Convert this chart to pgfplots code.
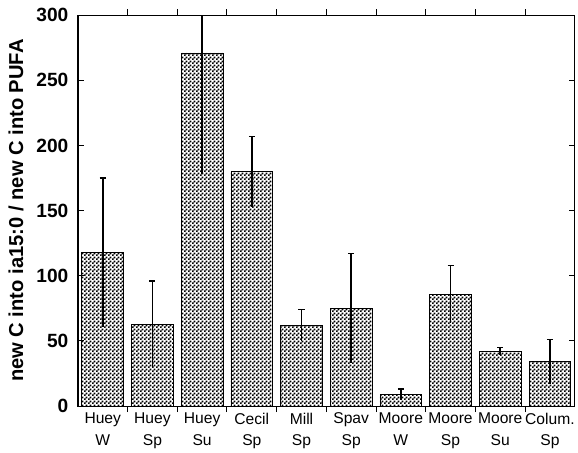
\documentclass[border=0pt]{standalone}
\usepackage{pgfplots}
\pgfplotsset{compat=1.18}
\usetikzlibrary{patterns}
\usepackage{fontspec}
\setmainfont{Liberation Sans}
\pgfdeclarepatternformonly{finecheck}{\pgfpointorigin}{\pgfqpoint{4pt}{4pt}}{\pgfqpoint{4pt}{4pt}}{%
  \pgfpathrectangle{\pgfpointorigin}{\pgfqpoint{2pt}{2pt}}%
  \pgfpathrectangle{\pgfqpoint{2pt}{2pt}}{\pgfqpoint{2pt}{2pt}}%
  \pgfusepath{fill}}
\begin{document}
\begin{tikzpicture}
\begin{axis}[
  scale only axis,
  width=493pt, height=388pt,
  xmin=-0.5, xmax=9.5,
  ymin=0, ymax=300,
  ytick={0,50,...,300},
  xtick={0,...,9},
  xticklabels={{Huey\\W},{Huey\\Sp},{Huey\\Su},{Cecil\\Sp},{Mill\\Sp},{Spav\\Sp},{Moore\\W},{Moore\\Sp},{Moore\\Su},{Colum.\\Sp}},
  minor xtick={0.5,1.5,...,8.5},
  major x tick style={draw=none},
  tick align=inside,
  major tick length=6pt,
  minor tick length=6pt,
  tick style={line width=1pt, black},
  axis line style={line width=1.2pt},
  /pgf/number format/assume math mode=true,
  yticklabel style={font=\fontsize{19}{20}\selectfont\bfseries, xshift=-6pt},
  xticklabel style={align=center, font=\fontsize{15.5}{21.5}\selectfont, yshift=3pt},
  ylabel={new C into ia15:0 / new C into PUFA},
  ylabel style={font=\fontsize{20}{22}\selectfont\bfseries, yshift=6pt},
  ybar, bar width=0.84, bar shift=0pt,
  clip=true,
]
\addplot[draw=black, line width=0.8pt, pattern=finecheck,
  error bars/.cd, y dir=plus, y explicit,
  error bar style={line width=1.5pt},
  error mark options={rotate=90, mark size=3pt, line width=1.5pt}]
  table[x=x, y=y, y error=e] {
x y e
0 118 57
1 63 33
2 271 93
3 180 27
4 62 12
5 75 42
6 9 4
7 86 22
8 42 3
9 34 17
};
\addplot[draw=none, fill=none, forget plot,
  error bars/.cd, y dir=minus, y explicit, error mark=none,
  error bar style={line width=1.5pt}]
  table[x=x, y=y, y error=e] {
x y e
0 118 57
1 63 33
2 271 93
3 180 27
4 62 12
5 75 42
6 9 4
7 86 22
8 42 3
9 34 17
};
\end{axis}
\path (current axis.north) -- ++(0pt,15pt);
\path (current axis.outer west) -- ++(-5pt,0pt);
\end{tikzpicture}
\end{document}
